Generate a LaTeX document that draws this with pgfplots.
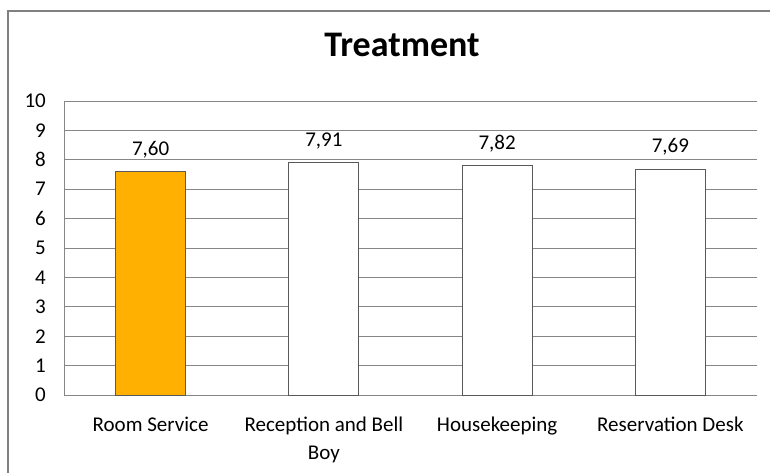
\documentclass[border=0pt]{standalone}
\usepackage{pgfplots}
\pgfplotsset{compat=1.18}
\usepackage{fontspec}
\setmainfont{Carlito}
\definecolor{barorange}{HTML}{FFB000}
\definecolor{gridgray}{HTML}{868686}
\definecolor{framegray}{HTML}{808080}
\definecolor{bardraw}{HTML}{595959}
\begin{document}
\begin{tikzpicture}
\useasboundingbox (-64pt,-77pt) rectangle (706pt,395pt);
\draw[line width=2pt, framegray] (-55.5pt,-120pt) rectangle (760pt,384pt);
\node[font=\fontsize{36}{42}\selectfont\bfseries] at (338pt,350pt) {Treatment};
\begin{axis}[
  at={(0,0)}, anchor=south west, scale only axis,
  width=693pt, height=294pt,
  ybar, bar width=70pt, bar shift=0pt,
  xmin=-0.5, xmax=3.5, ymin=0, ymax=10,
  ytick={0,1,...,10},
  xtick=data,
  xticklabels={Room Service, {Reception and Bell\\Boy}, Housekeeping, Reservation Desk},
  axis x line*=bottom, axis y line*=left,
  axis line style={gridgray, -},
  ymajorgrids, grid style={gridgray, line width=0.8pt},
  major tick length=0pt,
  tick style={draw=none},
  /pgf/number format/assume math mode=true,
  ticklabel style={font=\fontsize{21}{28}\selectfont, text=black},
  yticklabel style={inner sep=0pt, xshift=-18pt},
  xticklabel style={align=center, inner sep=0pt, yshift=-22pt},
  nodes near coords,
  nodes near coords style={font=\fontsize{21}{26}\selectfont, anchor=base, inner sep=0pt, yshift=16pt,
    /pgf/number format/.cd, fixed, fixed zerofill, precision=2, use comma, assume math mode=true},
]
\addplot[draw=bardraw, line width=0.8pt, fill=white, nodes near coords=\pgfmathprintnumber{\pgfplotspointmeta}] coordinates {(0,7.60) (1,7.91) (2,7.82) (3,7.69)};
\addplot[draw=bardraw, line width=0.8pt, fill=barorange, nodes near coords={}] coordinates {(0,7.60)};
\end{axis}
\end{tikzpicture}
\end{document}
